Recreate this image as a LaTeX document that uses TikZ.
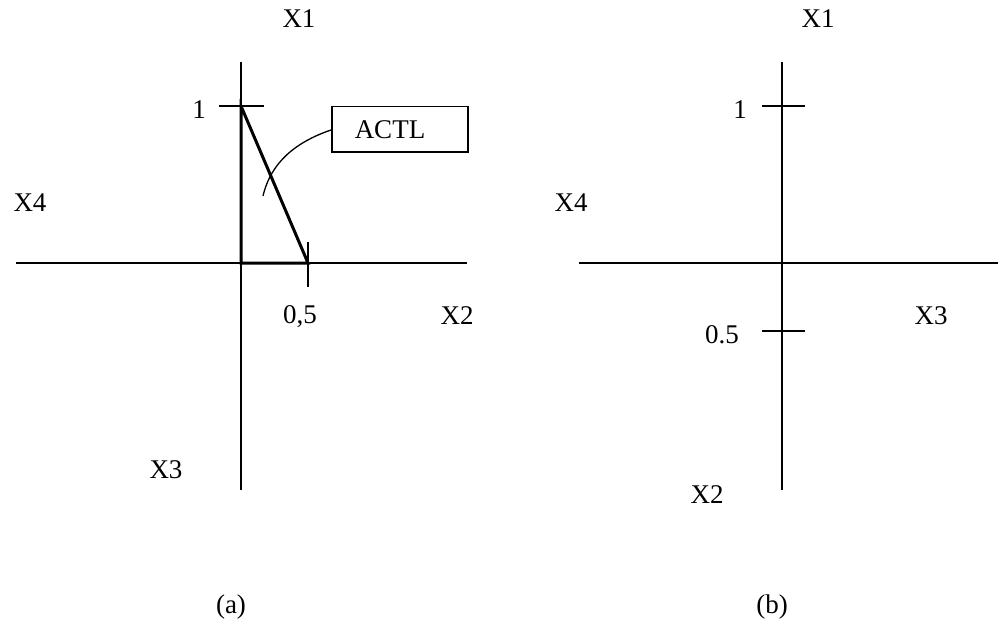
\documentclass[tikz,border=0pt]{standalone}
\usepackage{fontspec}
\setmainfont{Liberation Serif}
\begin{document}
\begin{tikzpicture}[x=1pt,y=-1pt,
  axis/.style={line width=1.3pt},
  thick line/.style={line width=3pt},
  lbl/.style={font=\fontsize{27}{31}\selectfont, inner sep=0pt, anchor=base},
  boxnode/.style={draw, line width=1.5pt, minimum width=136pt, minimum height=45pt, inner xsep=0pt, inner ysep=0pt, font=\fontsize{27}{31}\selectfont}]
\useasboundingbox (0,0) rectangle (998,623);
% ---------- (a) ----------
\coordinate (aT) at (241,62);
\coordinate (aB) at (241,490);
\coordinate (aL) at (16,263);
\coordinate (aR) at (467,263);
\coordinate (aO) at (241,263);
\coordinate (aOne) at (241,106);
\coordinate (aHalf) at (308,263);
\draw[axis] (aT) -- (aB);
\draw[axis] (aL) -- (aR);
\draw[axis] (219,106) -- (264,106);
\draw[axis] (308,242) -- (308,287);
\draw[thick line, line join=miter] (aOne) -- (aO) -- (aHalf) -- cycle;
\node[boxnode, anchor=north west] (actl) at (331,106) {\raisebox{-7pt}{\hspace*{23pt}ACTL\hspace*{43pt}}};
\coordinate (tip) at (263,196);
\draw[line width=1.3pt] (actl.west |- 0,130) .. controls (296,142) and (271,162) .. (tip);
\node[lbl] (ax1) at (299,28) {X1};
\node[lbl] (aone) at (199,119) {1};
\node[lbl] (ax4) at (30,211) {X4};
\node[lbl] (ahalf) at (300,323) {0,5};
\node[lbl] (ax2) at (457,324) {X2};
\node[lbl] (ax3) at (166,478) {X3};
\node[lbl] (cap a) at (231,613) {(a)};
% ---------- (b) ----------
\coordinate (bT) at (782,62);
\coordinate (bB) at (782,490);
\coordinate (bL) at (579,263);
\coordinate (bR) at (998,263);
\draw[axis] (bT) -- (bB);
\draw[axis] (bL) -- (bR);
\draw[axis] (762,106) -- (805,106);
\draw[axis] (762,331) -- (805,331);
\node[lbl] (bx1) at (818,28) {X1};
\node[lbl] (bone) at (740,119) {1};
\node[lbl] (bx4) at (571,211) {X4};
\node[lbl] (bx3) at (931,324) {X3};
\node[lbl] (bhalf) at (722,343) {0.5};
\node[lbl] (bx2) at (707,503) {X2};
\node[lbl] (cap b) at (772,613) {(b)};
\end{tikzpicture}
\end{document}
